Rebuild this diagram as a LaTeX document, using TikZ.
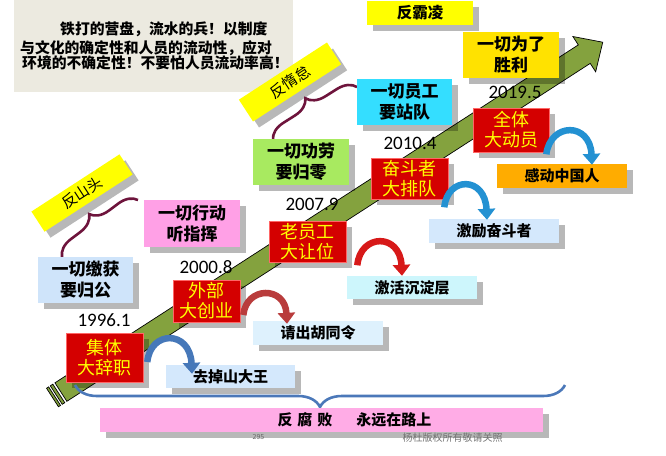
\documentclass[tikz,border=0pt]{standalone}
\usepackage{fontspec}
\setmainfont{Noto Sans CJK SC}
\newfontfamily\datefont{Carlito}
\usetikzlibrary{shadows,decorations.pathreplacing,arrows.meta,calc}
\definecolor{beige}{RGB}{236,234,224}
\definecolor{ayellow}{RGB}{255,255,0}
\definecolor{gold}{RGB}{255,226,0}
\definecolor{agreen}{RGB}{132,162,62}
\definecolor{ared}{RGB}{212,0,0}
\definecolor{lblue}{RGB}{207,228,250}
\definecolor{lpink}{RGB}{255,160,230}
\definecolor{lgreen}{RGB}{168,234,96}
\definecolor{lcyan}{RGB}{52,222,255}
\definecolor{pblue}{RGB}{212,232,252}
\definecolor{pblue2}{RGB}{222,241,253}
\definecolor{pcyan}{RGB}{205,246,252}
\definecolor{aorange}{RGB}{255,172,0}
\definecolor{bpink}{RGB}{255,172,230}
\definecolor{maroon}{RGB}{110,20,60}
\definecolor{braceblue}{RGB}{75,120,185}
\definecolor{arrblue}{RGB}{70,120,185}
\definecolor{arrbrown}{RGB}{185,60,60}
\definecolor{arrred}{RGB}{215,25,25}
\definecolor{arrsky}{RGB}{35,145,210}
\tikzset{
  shad/.style={drop shadow={shadow xshift=6pt,shadow yshift=-6pt,opacity=0.28,fill=black}},
  box/.style={shad,inner sep=0pt,align=center},
  redbox/.style={box,fill=ared,draw=red!60!white,line width=0.6pt,text=ayellow,font=\fontsize{18}{20}\selectfont},
  bigbox/.style={box,text=black,font=\bfseries\fontsize{17}{21}\selectfont},
  smallbox/.style={box,text=black,font=\bfseries\fontsize{15}{17}\selectfont},
  ylabel/.style={box,fill=ayellow,text=black,font=\fontsize{15}{17}\selectfont},
  datelbl/.style={inner sep=0pt,font=\datefont\fontsize{19}{21}\selectfont},
  para/.style={inner sep=0pt,anchor=base west,font=\bfseries\fontsize{14.8}{17}\selectfont},
  carrow/.style={line width=6.5pt,-{Triangle[width=17pt,length=11pt]}},
  mbrace/.style={draw=maroon,line width=2.6pt,decorate,decoration={brace,amplitude=18pt}},
}
\begin{document}
\begin{tikzpicture}[x=1pt,y=-1pt]
\useasboundingbox (0,0) rectangle (666,455);
\fill[white] (0,0) rectangle (666,455);

% top-left text box
\fill[beige] (14,0) rectangle (293,92);
\node[para] (p1) at (60,34.6) {铁打的营盘，流水的兵！以制度};
\node[para] (p2) at (20,53.6) {与文化的确定性和人员的流动性，应对};
\node[para] (p3) at (22,68.6) {环境的不确定性！不要怕人员流动率高！};

% big striped arrow
\begin{scope}[shift={(52.5,397.5)},rotate=32.85]
  \draw[fill=agreen,line width=0.7pt] (10,-11) -- (633,-11) -- (633,-21) -- (655,0) -- (633,21) -- (633,11) -- (10,11) -- cycle;
  \draw[fill=agreen,line width=0.7pt] (0,-11) rectangle (2.5,11);
  \draw[fill=agreen,line width=0.7pt] (4.5,-11) rectangle (7.5,11);
\end{scope}

% rotated yellow labels
\node[ylabel,rotate=33,minimum width=105pt,minimum height=24pt] (fst) at (82,193) {反山头};
\node[ylabel,rotate=33,minimum width=105pt,minimum height=26pt] (fdd) at (290,82) {反惰怠};
\node[ylabel,font=\bfseries\fontsize{15.5}{17}\selectfont,minimum width=106pt,minimum height=24pt] (fbl) at (420,13) {反霸凌};

% braces
\coordinate (b1a) at (62,257); \coordinate (b1b) at (138,200);
\draw[mbrace] (b1a) -- (b1b);
\coordinate (b2a) at (273,140); \coordinate (b2b) at (357,87);
\draw[mbrace] (b2a) -- (b2b);

% upper-left boxes
\node[bigbox,fill=lblue,minimum width=95pt,minimum height=46pt] (jg) at (85.5,280) {一切缴获\\要归公};
\node[bigbox,fill=lpink,minimum width=96pt,minimum height=47pt] (xd) at (192,223.5) {一切行动\\听指挥};
\node[bigbox,fill=lgreen,minimum width=96pt,minimum height=46pt] (gl) at (301,162) {一切功劳\\要归零};
\node[bigbox,fill=lcyan,minimum width=95pt,minimum height=46pt] (yg) at (404.5,102) {一切员工\\要站队};
\node[bigbox,fill=gold,minimum width=96pt,minimum height=46pt] (sl) at (511,55) {一切为了\\胜利};

% dates
\node[datelbl] (d1) at (104,320) {1996.1};
\node[datelbl] (d2) at (206,267) {2000.8};
\node[datelbl] (d3) at (312,204) {2007.9};
\node[datelbl] (d4) at (410,143) {2010.4};
\node[datelbl] (d5) at (515,92) {2019.5};

% red boxes on the arrow
\node[redbox,minimum width=77pt,minimum height=49pt] (jt) at (104.5,357.5) {集体\\大辞职};
\node[redbox,minimum width=67pt,minimum height=42pt] (wb) at (206.5,301) {外部\\大创业};
\node[redbox,minimum width=77pt,minimum height=41pt] (lyg) at (307.5,241.5) {老员工\\大让位};
\node[redbox,minimum width=77pt,minimum height=41pt] (fdz) at (409.5,178.5) {奋斗者\\大排队};
\node[redbox,minimum width=76pt,minimum height=44pt] (qt) at (511,130) {全体\\大动员};

% lower-right boxes
\node[smallbox,fill=pblue,minimum width=129pt,minimum height=23pt] (qd) at (230.5,376.5) {去掉山大王};
\node[smallbox,fill=pblue2,minimum width=130pt,minimum height=24pt] (qc) at (318,333) {请出胡同令};
\node[smallbox,fill=pcyan,minimum width=130pt,minimum height=23pt] (jh) at (412,287.5) {激活沉淀层};
\node[smallbox,fill=pblue,minimum width=130pt,minimum height=24pt] (jl) at (494,231) {激励奋斗者};
\node[smallbox,fill=aorange,minimum width=130pt,minimum height=24pt] (gd) at (562,176) {感动中国人};

% curved arrows
\draw[carrow,arrblue] ($(jt.east)+(4,4.5)$) .. controls +(3,-32) and +(-2,-44) .. ($(qd.north)+(-38.5,9)$);
\draw[carrow,arrbrown] ($(wb.east)+(3,14)$) .. controls +(3,-29) and +(-2,-38) .. ($(qc.north)+(-31,3)$);
\draw[carrow,arrred] ($(lyg.south east)+(11,3)$) .. controls +(3,-32) and +(-2,-43) .. ($(jh.north)+(-10,0)$);
\draw[carrow,arrsky] ($(fdz.south east)+(-4,8)$) .. controls +(3,-31) and +(-2,-44) .. ($(jl.north)+(-7,1)$);
\draw[carrow,arrsky] ($(qt.south east)+(-3,2)$) .. controls +(4,-32) and +(-2,-43) .. ($(gd.north)+(30,1)$);

% bottom brace and bar
\coordinate (b3a) at (565,385); \coordinate (b3b) at (75,385);
\draw[draw=braceblue,line width=2.6pt,decorate,decoration={brace,amplitude=22pt}] (b3a) -- (b3b);
\fill[shad,bpink] (100,408) rectangle (543,432);
\node[inner sep=0pt,font=\bfseries\fontsize{15}{17}\selectfont] (ffb) at (354.5,420) {反\hspace{5pt}腐\hspace{5pt}败\hspace{24pt}永远在路上};

% footer
\node[inner sep=0pt,text=black!60,font=\fontsize{7}{8}\selectfont] (pg) at (258.5,436.5) {295};
\node[inner sep=0pt,text=black!55,font=\fontsize{10}{11}\selectfont] (cr) at (452.5,437.5) {杨杜版权所有敬请关照};
\end{tikzpicture}
\end{document}
